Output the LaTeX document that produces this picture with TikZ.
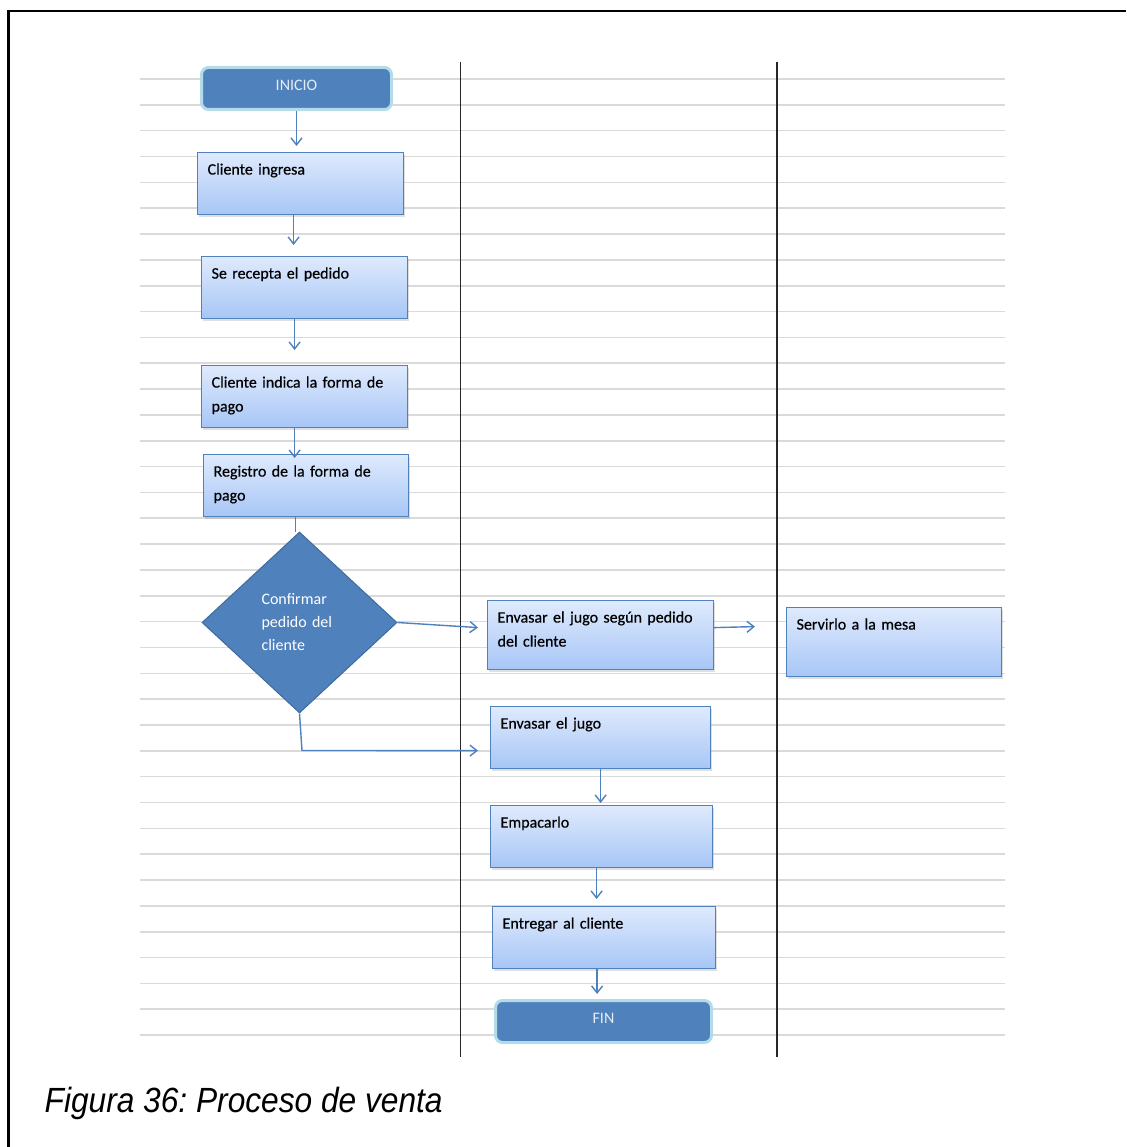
\documentclass[tikz,border=0pt]{standalone}
\usepackage{fontspec}
\setmainfont{Carlito}
\newfontfamily\boxfont[FakeBold=0.4]{Carlito}
\newfontfamily\captionfont{Liberation Sans}
\usepackage{graphicx}
\usetikzlibrary{arrows.meta,shapes.geometric,shadows}
\definecolor{flowblue}{HTML}{4F81BD}
\definecolor{boxtop}{HTML}{DFEAFD}
\definecolor{boxbottom}{HTML}{A7C6F6}
\definecolor{termglow}{HTML}{B4DCE8}
\definecolor{termtext}{HTML}{E4ECF7}
\definecolor{diaedge}{HTML}{3E6A9C}
\definecolor{gridgray}{HTML}{DADADA}
\tikzset{
  procbox/.style={rectangle, draw=flowblue, line width=1.2pt, top color=boxtop, bottom color=boxbottom,
    text width=#1, align=left, inner xsep=10pt, inner ysep=6pt, text height=16pt, text depth=34pt,
    font=\boxfont\fontsize{16}{24}\selectfont, drop shadow={shadow xshift=1.5pt,shadow yshift=-2pt,opacity=0.25}},
  termbox/.style={rectangle, rounded corners=7pt, fill=flowblue, draw=termglow, line width=3pt,
    text=termtext, font=\fontsize{16}{20}\selectfont, text height=10.5pt, text depth=6pt, minimum height=42pt},
  decision/.style={diamond, fill=flowblue, draw=diaedge, line width=1pt, text=white, align=left,
    text width=76pt, inner sep=0pt, font=\fontsize{16}{23}\selectfont},
  flow/.style={draw=flowblue, line width=1.4pt, -{Straight Barb[length=7pt,width=11pt]}},
  gridline/.style={draw=gridgray, line width=1.6pt},
  laneline/.style={draw=black!85, line width=1.5pt},
}
\begin{document}
\begin{tikzpicture}[x=1pt,y=-1pt]
\useasboundingbox (0,0) rectangle (1126,1147);

%Frame
\draw[line width=2.5pt] (8.5,1147) -- (8.5,11) -- (1126,11);
%Horizontal Lines
\foreach \i in {0,...,37}
  \draw[gridline] (140,{79+25.84*\i}) -- (1005,{79+25.84*\i});
%Lane Lines
\draw[laneline] (460.5,62) -- (460.5,1057);
\draw[laneline] (777,62) -- (777,1057);

% Terminal Nodes
\node[termbox, minimum width=190pt] (ini) at (296.5,88.5) {INICIO};
\node[termbox, minimum width=216pt] (fin) at (603.5,1021.5) {FIN};
% Process Nodes
\node[procbox=186pt, anchor=north west] (cli) at (197,152) {Cliente ingresa};
\node[procbox=186pt, anchor=north west] (rec) at (201,256) {Se recepta el pedido};
\node[procbox=186pt, anchor=north west] (ind) at (201,365) {Cliente indica la forma de pago};
\node[procbox=185pt, anchor=north west] (reg) at (203,454) {Registro de la forma de pago};
\node[procbox=206pt, text depth=41pt, anchor=north west] (env) at (487,600) {Envasar el jugo según pedido del cliente};
\node[procbox=195pt, text depth=41pt, anchor=north west] (ser) at (786,607) {Servirlo a la mesa};
\node[procbox=200pt, anchor=north west] (jug) at (490,706) {Envasar el jugo};
\node[procbox=202pt, anchor=north west] (emp) at (490,805) {Empacarlo};
\node[procbox=203pt, anchor=north west] (ent) at (492,906) {Entregar al cliente};
% Decision Node
\node[decision, minimum width=195pt, minimum height=181pt] (dia) at (299.5,622.5) {Confirmar\\pedido del\\cliente};

%Arrows
\draw[flow, shorten >=6pt] (ini.south) -- (ini.south |- cli.north);
\draw[flow, shorten >=11pt] ([xshift=-7pt]cli.south) -- ([xshift=-7pt]cli.south |- rec.north);
\draw[flow, shorten >=15pt] ([xshift=-10pt]rec.south) -- ([xshift=-10pt]rec.south |- ind.north);
\draw[flow, shorten >=-4pt] ([xshift=-10pt]ind.south) -- ([xshift=-10pt]ind.south |- reg.north);
\draw[draw=flowblue, line width=1.4pt] ([xshift=-10.5pt]reg.south) -- ([xshift=-10.5pt]reg.south |- dia.north);
\draw[flow] (dia.east) -- ([xshift=-9pt,yshift=7.5pt]env.west);
\draw[flow] ([yshift=7.5pt]env.east) -- ([xshift=-31pt,yshift=15.5pt]ser.west);
\draw[flow] (dia.south) -- ++(2.5,37) -- ([xshift=-12pt,yshift=-13pt]jug.west);
\draw[flow, shorten >=2pt] (jug.south) -- (jug.south |- emp.north);
\draw[flow, shorten >=7pt] ([xshift=-5pt]emp.south) -- ([xshift=-5pt]emp.south |- ent.north);
\draw[flow, shorten >=5pt] ([xshift=-7pt]ent.south) -- ([xshift=-7pt]ent.south |- fin.north);

% Text Node
\node[anchor=base west, inner sep=0pt] (cap) at (44.5,1112) {\scalebox{0.905}[1]{\captionfont\itshape\frenchspacing\fontsize{35}{40}\selectfont Figura 36: Proceso de venta}};
\end{tikzpicture}
\end{document}
